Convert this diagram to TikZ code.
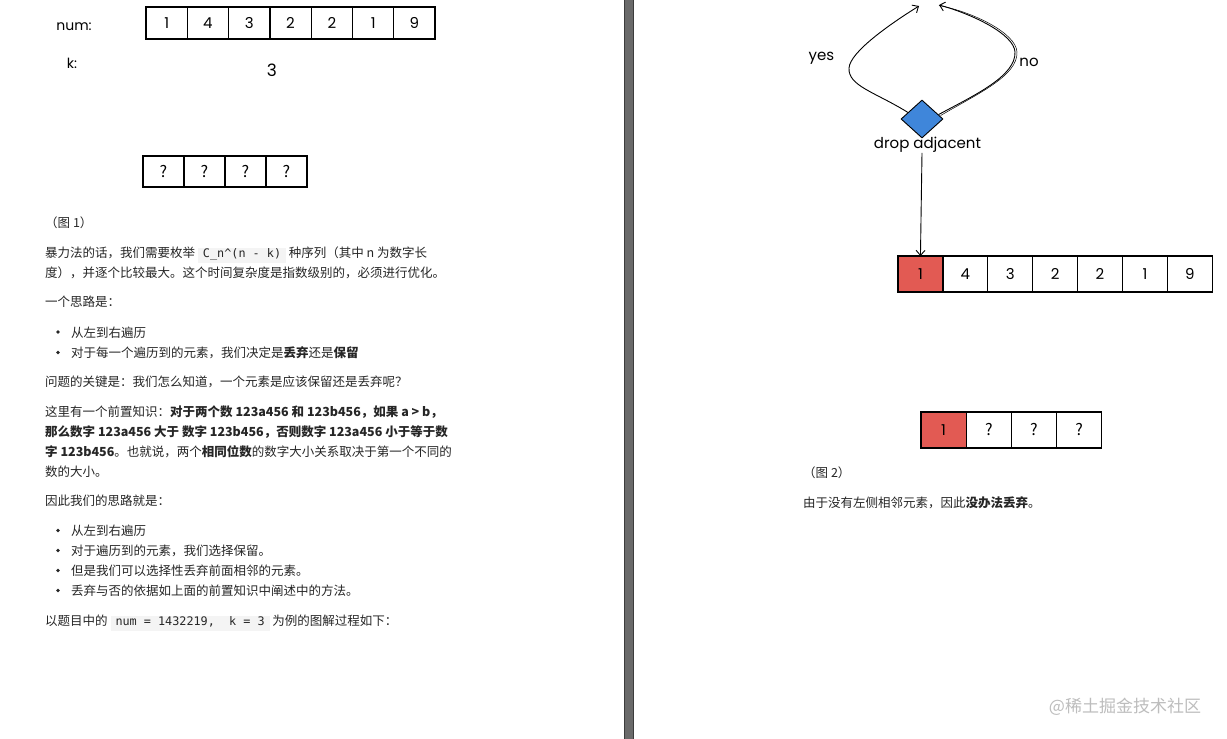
\documentclass[tikz,border=0pt]{standalone}
\usepackage{fontspec}
\setmainfont{Noto Sans CJK SC}
\setmonofont{DejaVu Sans Mono}
\newfontfamily\hand{Poppins}
\usetikzlibrary{shapes.geometric,arrows.meta}
\definecolor{txt}{HTML}{262626}
\definecolor{codebg}{HTML}{F4F4F4}
\definecolor{dblue}{HTML}{3F86DA}
\definecolor{dred}{HTML}{E25A53}
\definecolor{sepgray}{HTML}{6A6A6A}
\definecolor{sepdark}{HTML}{3C3C3C}
\definecolor{wmark}{HTML}{BDBDBD}
\newcommand\codeb[1]{{\setlength{\fboxsep}{0pt}\colorbox{codebg}{\hspace{5pt}\rule[-5pt]{0pt}{15pt}\ttfamily\fontsize{11.8}{12}\selectfont #1\hspace{5pt}}}}
\begin{document}
\begin{tikzpicture}[x=1pt,y=-1pt,
  cell/.style={draw=black,line width=1.3pt,outer sep=0pt,inner sep=0pt,fill=white,text=black,font=\hand\fontsize{15}{15}\selectfont},
  smallcell/.style={cell,minimum width=41.3pt,minimum height=32pt},
  bigcell/.style={cell,minimum width=44.9pt,minimum height=36pt},
  qmark/.style={font=\fontsize{16}{16}\selectfont},
  redcell/.style={fill=dred},
  body/.style={anchor=base west,inner sep=0pt,text=txt,font=\fontsize{12.5}{15}\selectfont},
  handlbl/.style={inner sep=0pt,text=black,font=\hand\fontsize{14}{14}\selectfont},
  bdot/.style={circle,fill=txt,inner sep=0pt,minimum size=3.8pt},
  flow/.style={line width=0.9pt,draw=black,-{Straight Barb[length=5pt,width=9pt]}}
]
\useasboundingbox (0,0) rectangle (1227,739);
\fill[white] (0,0) rectangle (1227,739);
% separator
\fill[sepgray] (624,0) rectangle (634,739);
\draw[sepdark,line width=1pt] (624.5,0) -- (624.5,739) (633.5,0) -- (633.5,739);

% ---------- left panel ----------
\node[handlbl] (numlbl) at (74,27) {num:};
\node[handlbl] (klbl) at (72,63) {k:};
\node[handlbl,font=\hand\fontsize{17}{17}\selectfont] (kval) at (272,70) {3};
\foreach \v [count=\i] in {1,4,3,2,2,1,9}
  \node[smallcell] (t\i) at ({146+41.3*(\i-0.5)},23) {\v};
\foreach \i in {1,...,4}
  \node[smallcell,qmark,minimum width=41pt,minimum height=31pt] (q\i) at ({143+41*(\i-0.5)},171.5) {?};

\node[body] (fig1) at (45,227.7) {（图 1）};
\node[body] (p1) at (45,257.7) {暴力法的话，我们需要枚举 \codeb{C\_n\^{}(n - k)} 种序列（其中 n 为数字长};
\node[body] (p2) at (45,277.7) {度），并逐个比较最大。这个时间复杂度是指数级别的，必须进行优化。};
\node[body] (p3) at (45,306.7) {一个思路是：};
\node[bdot] (d1) at (58,332) {};
\node[body] (l1) at (71,337.2) {从左到右遍历};
\node[bdot] (d2) at (58,352.5) {};
\node[body] (l2) at (71,357.7) {对于每一个遍历到的元素，我们决定是\textbf{丢弃}还是\textbf{保留}};
\node[body] (p4) at (45,386.7) {问题的关键是：我们怎么知道，一个元素是应该保留还是丢弃呢？};
\node[body] (p5) at (45,416.2) {这里有一个前置知识：\textbf{对于两个数 123a456 和 123b456，如果 a > b，}};
\node[body] (p6) at (45,436.5) {\textbf{那么数字 123a456 大于 数字 123b456，否则数字 123a456 小于等于数}};
\node[body] (p7) at (45,456.7) {\textbf{字 123b456}。也就说，两个\textbf{相同位数}的数字大小关系取决于第一个不同的};
\node[body] (p8) at (45,476.7) {数的大小。};
\node[body] (p9) at (45,505.7) {因此我们的思路就是：};
\node[bdot] (d3) at (58,530.5) {};
\node[body] (m1) at (71,535.7) {从左到右遍历};
\node[bdot] (d4) at (58,550.5) {};
\node[body] (m2) at (71,555.7) {对于遍历到的元素，我们选择保留。};
\node[bdot] (d5) at (58,570.5) {};
\node[body] (m3) at (71,575.7) {但是我们可以选择性丢弃前面相邻的元素。};
\node[bdot] (d6) at (58,590.5) {};
\node[body] (m4) at (71,595.7) {丢弃与否的依据如上面的前置知识中阐述中的方法。};
\node[body] (p10) at (45,625.7) {以题目中的 \codeb{num = 1432219, \ k = 3} 为例的图解过程如下：};

% ---------- right panel ----------
\node[diamond,draw=black,line width=0.9pt,fill=dblue,inner sep=0pt,minimum width=42pt,minimum height=38pt] (dia) at (922,119) {};
\node[handlbl,font=\hand\fontsize{15}{15}\selectfont] (droplbl) at (927.5,145) {drop adjacent};
\node[handlbl,font=\hand\fontsize{15}{15}\selectfont] (yes) at (821.5,58) {yes};
\node[handlbl,font=\hand\fontsize{15}{15}\selectfont] (no) at (1029,62) {no};
\coordinate (ytop) at (919,6);
\coordinate (ntop) at (939,5);

\foreach \v [count=\i] in {1,4,3,2,2,1,9}
  \node[bigcell] (r\i) at ({898+44.9*(\i-0.5)},274) {\v};
\node[bigcell,redcell] at (r1) {1};

\node[bigcell,redcell,minimum width=45.2pt] (s1) at ({921+45.2*0.5},430) {1};
\foreach \i in {2,3,4}
  \node[bigcell,qmark,minimum width=45.2pt] (s\i) at ({921+45.2*(\i-0.5)},430) {?};

\draw[flow] (droplbl.south -| dia.south) -- (r1.north);
\draw[flow] (dia.155) .. controls (875,92) and (848,86) .. (849,68) .. controls (850,52) and (890,24) .. (ytop);
\draw[flow] (dia.15) .. controls (975,95) and (1016,76) .. (1015,52) .. controls (1014,34) and (972,14) .. (ntop);
\draw[line width=0.5pt] ([xshift=2pt,yshift=-1pt]dia.15) .. controls (977,94) and (1018,76) .. (1017,52) .. controls (1016,33) and (973,12) .. ([yshift=-0.5pt]ntop);

\node[body] (fig2) at (803,477.7) {（图 2）};
\node[body] (rp1) at (803,507.7) {由于没有左侧相邻元素，因此\textbf{没办法丢弃}。};
\node[inner sep=0pt,text=wmark,font=\fontsize{17}{17}\selectfont] (wm) at (1125,707) {@稀土掘金技术社区};
\end{tikzpicture}
\end{document}
